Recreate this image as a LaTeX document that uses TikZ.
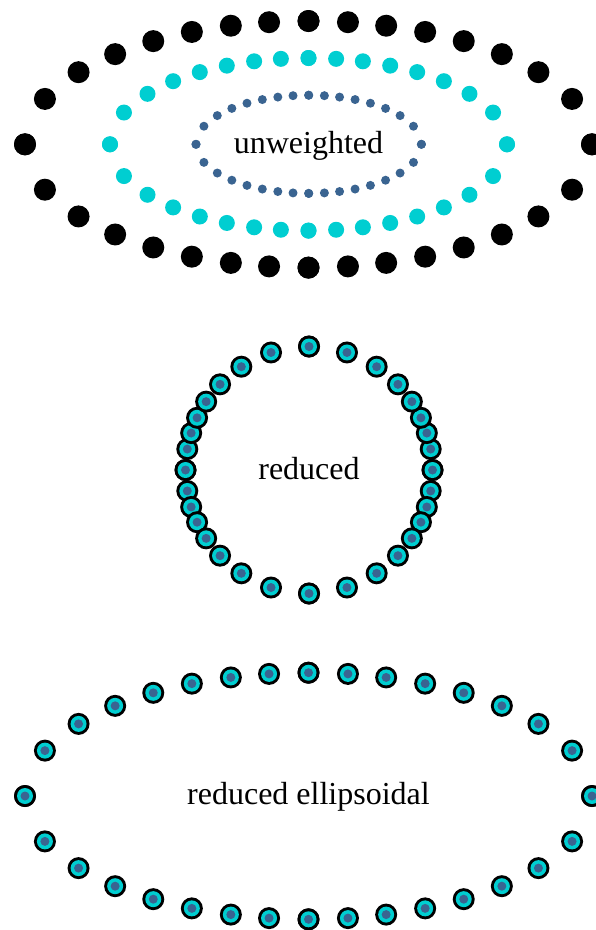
\documentclass[tikz,border=0pt]{standalone}
\usepackage{fontspec}
\setmainfont{Liberation Serif}
\usepackage{xcolor}
\usetikzlibrary{positioning}
\definecolor{dotcyan}{RGB}{0,206,209}
\definecolor{dotblue}{RGB}{58,100,145}

\begin{document}
\begin{tikzpicture}[x=1pt,y=-1pt,
    bigdot/.style={fill=black},
    middot/.style={fill=dotcyan},
    smalldot/.style={fill=dotblue},
    dotlabel/.style={font=\fontsize{32}{36}\selectfont, inner sep=0pt}]
    \useasboundingbox (0,0) rectangle (595,930);

    % Unweighted: three nested ellipses of dots
    \foreach \t in {0,21.6,35.8,47.0,56.8,65.7,74.1,82.0,90} {
        \foreach \sx/\sy in {1/1,-1/1,1/-1,-1/-1} {
            \fill[bigdot] ({308.5+\sx*283.5*cos(\t)},{144.3+\sy*123.3*sin(\t)}) circle (11pt);
            \fill[middot] ({308.5+\sx*198.5*cos(\t)},{144.3+\sy*86.3*sin(\t)}) circle (8pt);
            \fill[smalldot] ({308.7+\sx*112.7*cos(\t)},{144.3+\sy*49.1*sin(\t)}) circle (4.5pt);
        }
    }
    \node[dotlabel] (unweighted) at (308.5,145.5) {unweighted};

    % Reduced: all three on one circle
    \foreach \t in {0,21.6,35.8,47.0,56.8,65.7,74.1,82.0,90} {
        \pgfmathsetmacro{\p}{atan2(123.3*sin(\t),283.5*cos(\t))}
        \foreach \sx/\sy in {1/1,-1/1,1/-1,-1/-1} {
            \fill[bigdot] ({309+\sx*123.5*cos(\p)},{470+\sy*123.5*sin(\p)}) circle (11pt);
            \fill[middot] ({309+\sx*123.5*cos(\p)},{470+\sy*123.5*sin(\p)}) circle (8pt);
            \fill[smalldot] ({309+\sx*123.5*cos(\p)},{470+\sy*123.5*sin(\p)}) circle (4.5pt);
        }
    }
    \node[dotlabel] (reduced) at (309,469) {reduced};

    % Reduced ellipsoidal: all three on the outer ellipse
    \foreach \t in {0,21.6,35.8,47.0,56.8,65.7,74.1,82.0,90} {
        \foreach \sx/\sy in {1/1,-1/1,1/-1,-1/-1} {
            \fill[bigdot] ({308.5+\sx*283.5*cos(\t)},{796+\sy*123.3*sin(\t)}) circle (11pt);
            \fill[middot] ({308.5+\sx*283.5*cos(\t)},{796+\sy*123.3*sin(\t)}) circle (8pt);
            \fill[smalldot] ({308.5+\sx*283.5*cos(\t)},{796+\sy*123.3*sin(\t)}) circle (4.5pt);
        }
    }
    \node[dotlabel] (redell) at (308.5,797) {reduced ellipsoidal};
\end{tikzpicture}
\end{document}
